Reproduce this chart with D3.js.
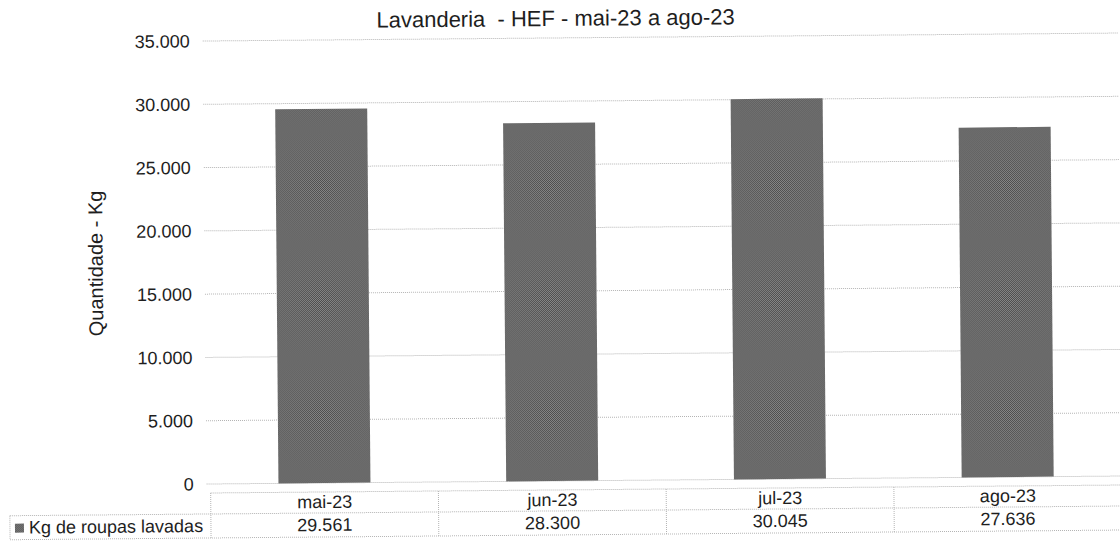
<!DOCTYPE html>
<html>
<head>
<meta charset="utf-8">
<title>Lavanderia - HEF</title>
<script src="https://cdn.jsdelivr.net/npm/d3@7"></script>
<style>
  body { margin: 0; background: #fff; }
  svg text { font-family: "Liberation Sans", Arial, sans-serif; fill: #1e1e1e; }
</style>
</head>
<body>
<div id="chart"></div>
<script>
var categories = ["mai-23", "jun-23", "jul-23", "ago-23"];
var values = [29561, 28300, 30045, 27636];
var valueLabels = ["29.561", "28.300", "30.045", "27.636"];
var yTicks = [0, 5000, 10000, 15000, 20000, 25000, 30000, 35000];
var seriesName = "Kg de roupas lavadas";
var titleText = "Lavanderia  - HEF - mai-23 a ago-23";

var w = 1120, h = 541;
var plotLeft = 209, plotRight = 1120, plotTop = 37, plotBottom = 480;
var tableTop = 489, rowH = 21;

var svg = d3.select("#chart").append("svg")
    .attr("width", w).attr("height", h);

// dithered fill like the scan
var defs = svg.append("defs");
var pat = defs.append("pattern")
    .attr("id", "dots").attr("width", 2).attr("height", 2)
    .attr("patternUnits", "userSpaceOnUse");
pat.append("rect").attr("width", 2).attr("height", 2).attr("fill", "#888");
pat.append("rect").attr("width", 1).attr("height", 1).attr("fill", "#4c4c4c");
pat.append("rect").attr("x", 1).attr("y", 1).attr("width", 1).attr("height", 1).attr("fill", "#4c4c4c");

// the scanned page is slightly tilted
var g = svg.append("g").attr("transform", "rotate(-0.5,665,300)");

var y = d3.scaleLinear().domain([0, 35000]).range([plotBottom, plotTop]);
var x = d3.scaleBand().domain(categories).range([plotLeft, plotRight]).paddingInner(0.596).paddingOuter(0.298);
var xCol = d3.scaleBand().domain(categories).range([plotLeft, plotRight]);

var fmt = function(d) { return d3.format(",")(d).replace(/,/g, "."); };

var lineStyle = function(sel) {
  return sel.attr("stroke", "#b4b4b4").attr("stroke-width", 1).attr("stroke-dasharray", "1,1");
};

// grid
g.append("g").selectAll("line").data(yTicks).enter().append("line")
    .attr("x1", plotLeft - 4).attr("x2", plotRight)
    .attr("y1", function(d) { return y(d); }).attr("y2", function(d) { return y(d); })
    .call(lineStyle);

// y axis labels
var yAxis = d3.axisLeft(y).tickValues(yTicks).tickFormat(fmt).tickSize(0).tickPadding(17);
var ya = g.append("g").attr("transform", "translate(" + plotLeft + ",0)").call(yAxis);
ya.select(".domain").remove();
ya.selectAll("text").style("font-size", "18px").attr("fill", "#1e1e1e")
    .style("font-family", "'Liberation Sans', Arial, sans-serif");

// bars
g.selectAll(".bar").data(values).enter().append("rect")
    .attr("class", "bar")
    .attr("x", function(d, i) { return x(categories[i]); })
    .attr("width", x.bandwidth())
    .attr("y", function(d) { return y(d); })
    .attr("height", function(d) { return y(0) - y(d); })
    .attr("fill", "url(#dots)");

// title
g.append("text").attr("x", 558).attr("y", 25).attr("text-anchor", "middle")
    .style("font-size", "22px").style("white-space", "pre").text(titleText);

// y axis title
g.append("text")
    .attr("transform", "translate(103," + ((plotTop + plotBottom) / 2) + ") rotate(-90)")
    .attr("text-anchor", "middle").style("font-size", "20px")
    .text("Quantidade - Kg");

// data table
var tb = g.append("g");
lineStyle(tb.append("line").attr("x1", plotLeft).attr("x2", plotRight).attr("y1", tableTop).attr("y2", tableTop));
lineStyle(tb.append("line").attr("x1", 8).attr("x2", plotRight).attr("y1", tableTop + rowH).attr("y2", tableTop + rowH));
lineStyle(tb.append("line").attr("x1", 8).attr("x2", plotRight).attr("y1", tableTop + 2 * rowH + 3).attr("y2", tableTop + 2 * rowH + 3));
lineStyle(tb.append("line").attr("x1", 8).attr("x2", 8).attr("y1", tableTop + rowH).attr("y2", tableTop + 2 * rowH + 3));
tb.selectAll(".vsep").data(categories).enter().append("line")
    .attr("class", "vsep")
    .attr("x1", function(d) { return xCol(d); }).attr("x2", function(d) { return xCol(d); })
    .attr("y1", tableTop).attr("y2", tableTop + 2 * rowH + 3)
    .call(lineStyle);

tb.selectAll(".cat").data(categories).enter().append("text")
    .attr("x", function(d) { return xCol(d) + xCol.bandwidth() / 2; })
    .attr("y", tableTop + 16).attr("text-anchor", "middle")
    .style("font-size", "18px").text(function(d) { return d; });

tb.selectAll(".val").data(valueLabels).enter().append("text")
    .attr("x", function(d, i) { return xCol(categories[i]) + xCol.bandwidth() / 2; })
    .attr("y", tableTop + rowH + 18).attr("text-anchor", "middle")
    .style("font-size", "18px").text(function(d) { return d; });

// legend key
tb.append("rect").attr("x", 13).attr("y", tableTop + rowH + 8).attr("width", 9).attr("height", 9)
    .attr("fill", "url(#dots)");
tb.append("text").attr("x", 27).attr("y", tableTop + rowH + 18)
    .style("font-size", "18px").text(seriesName);
</script>
</body>
</html>
